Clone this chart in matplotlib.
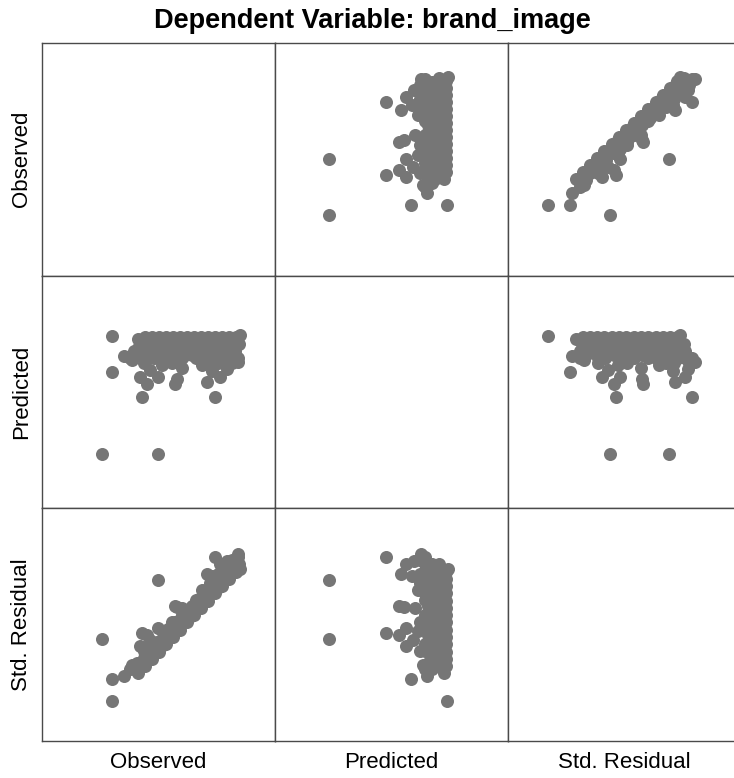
import matplotlib
matplotlib.use("Agg")
import matplotlib.pyplot as plt

plt.rcParams['font.family'] = ['Liberation Sans', 'DejaVu Sans']

# variables of the scatterplot matrix (SPSS regression plots)
var_names = ["Observed", "Predicted", "Std. Residual"]

observed = [
   1.50, 2.90, 1.75, 1.75, 2.50, 4.33, 2.40, 2.05,
   2.45, 2.63, 2.90, 3.38, 3.33, 4.13, 4.45, 4.63, 4.90, 2.25, 2.50, 4.25, 2.70, 3.50,
   3.00, 4.00, 4.75,
   2.58, 2.75, 2.93, 3.10, 3.28, 3.45, 3.63, 3.80, 3.98, 4.15, 4.33, 4.50, 4.68, 4.85, 4.95,
   2.68, 3.03, 3.38, 3.73, 4.08, 4.43, 4.78,
   2.48, 2.65, 2.83, 3.00, 3.18, 3.35, 3.53, 3.70, 3.88, 4.05, 4.23, 4.40, 4.58, 4.75, 4.93,
   2.40, 3.18, 3.88, 4.58,
   2.30, 2.55, 2.73, 2.90, 3.08, 3.25, 3.43, 3.60, 3.78, 3.95, 4.13, 4.30, 4.48, 4.65, 4.83,
   2.38, 2.70, 2.88, 3.05, 3.23, 3.40, 3.58, 3.75, 3.93, 4.10, 4.28, 4.45, 4.63, 4.80,
   2.20, 2.63, 2.80, 3.15, 3.33, 3.50, 3.85, 4.03, 4.38, 4.55, 4.73, 4.90,
   2.55, 3.25, 4.20, 4.40,
]
predicted = [
   1.35, 1.35, 4.30, 3.40, 2.78, 2.78, 4.23, 3.80,
   3.28, 3.10, 3.28, 3.23, 3.10, 3.15, 3.28, 3.48, 3.65, 3.70, 4.05, 3.43, 3.45, 3.50,
   3.58, 3.58, 3.63,
   4.28, 4.28, 4.28, 4.28, 4.28, 4.28, 4.28, 4.28, 4.28, 4.28, 4.28, 4.28, 4.28, 4.28, 4.33,
   4.18, 4.18, 4.18, 4.18, 4.18, 4.18, 4.18,
   4.10, 4.10, 4.10, 4.10, 4.10, 4.10, 4.10, 4.10, 4.10, 4.10, 4.10, 4.10, 4.10, 4.10, 4.10,
   4.00, 4.00, 4.00, 4.00,
   3.93, 3.93, 3.93, 3.93, 3.93, 3.93, 3.93, 3.93, 3.93, 3.93, 3.93, 3.93, 3.93, 3.93, 3.93,
   3.83, 3.83, 3.83, 3.83, 3.83, 3.83, 3.83, 3.83, 3.83, 3.83, 3.83, 3.83, 3.83, 3.83,
   3.75, 3.75, 3.75, 3.75, 3.75, 3.75, 3.75, 3.75, 3.75, 3.75, 3.75, 3.75,
   3.63, 3.63, 3.63, 3.63,
]
std_residual = [
   -0.45, 1.03, -2.00, -1.45, -0.30, 1.60, -1.30, -1.38,
   -0.63, -0.35, -0.18, 0.35, 0.38, 1.18, 1.43, 1.50, 1.68, -1.10, -1.05, 1.13, -0.48, 0.33,
   -0.25, 0.78, 1.53,
   -1.12, -0.94, -0.76, -0.58, -0.39, -0.21, -0.03, 0.15, 0.33, 0.51, 0.70, 0.88, 1.06, 1.24, 1.31,
   -0.95, -0.59, -0.23, 0.13, 0.50, 0.86, 1.22,
   -1.12, -0.93, -0.75, -0.57, -0.39, -0.21, -0.03, 0.15, 0.34, 0.52, 0.70, 0.88, 1.06, 1.24, 1.42,
   -1.13, -0.33, 0.40, 1.12,
   -1.19, -0.93, -0.75, -0.57, -0.39, -0.21, -0.03, 0.16, 0.34, 0.52, 0.70, 0.88, 1.06, 1.24, 1.43,
   -1.05, -0.72, -0.53, -0.35, -0.17, 0.01, 0.19, 0.37, 0.56, 0.74, 0.92, 1.10, 1.28, 1.46,
   -1.19, -0.75, -0.57, -0.20, -0.02, 0.16, 0.52, 0.70, 1.07, 1.25, 1.43, 1.61,
   -0.75, -0.02, 0.96, 1.17,
]

data = [observed, predicted, std_residual]
limits = [(0, 5.82), (0, 5.82), (-3, 2.82)]

W, H = 734, 778
fig = plt.figure(figsize=(W / 100, H / 100), dpi=100)

left_px = 42
top_px = 42.7
cell = 232.8
frame_color = "#4a4a4a"
dot_color = "#767676"

for r in range(3):
   for c in range(3):
      x0 = left_px + c * cell
      y0 = H - (top_px + (r + 1) * cell)
      ax = fig.add_axes([x0 / W, y0 / H, cell / W, cell / H])
      ax.set_xlim(*limits[c])
      ax.set_ylim(*limits[r])
      ax.set_xticks([])
      ax.set_yticks([])
      for sp in ax.spines.values():
         sp.set_color(frame_color)
         sp.set_linewidth(1.0)
      if r != c:
         ax.scatter(data[c], data[r], s=88, c=dot_color, linewidths=0, clip_on=True)

# row / column labels
for i, name in enumerate(var_names):
   cx = left_px + (i + 0.5) * cell
   fig.text(cx / W, 1 - 762 / H, name, ha="center", va="center", fontsize=16)
   cy = top_px + (i + 0.5) * cell
   fig.text(22 / W, 1 - cy / H, name, ha="center", va="center", rotation=90, fontsize=16)

fig.text(372 / W, 1 - 21 / H, "Dependent Variable: brand_image", ha="center", va="center",
         fontsize=19.5, fontweight="bold")

fig.savefig("out.png", dpi=100)
